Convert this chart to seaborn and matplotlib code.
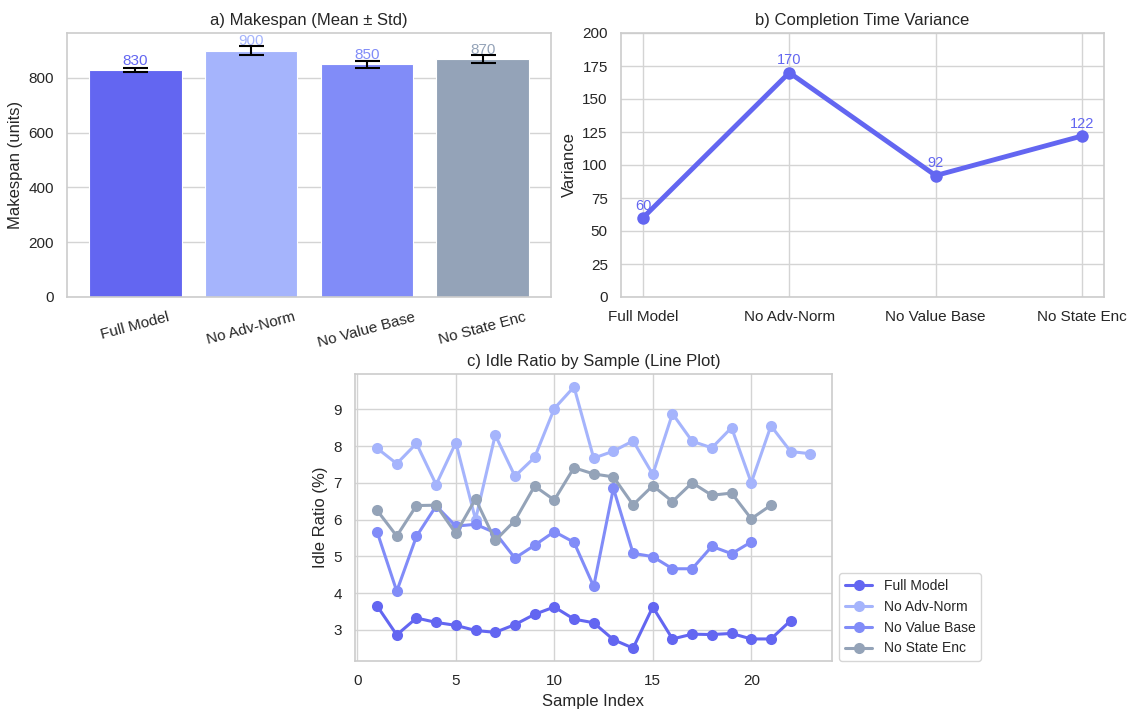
import numpy as np
import pandas as pd
import matplotlib
matplotlib.use("Agg")
import matplotlib.pyplot as plt
import seaborn as sns

# ---- data -------------------------------------------------------------
models = ["Full Model", "No Adv-Norm", "No Value Base", "No State Enc"]
colors = ["#6366F1", "#A5B4FC", "#818CF8", "#94A3B8"]

makespan_mean = [830, 900, 850, 870]
makespan_std = [8, 18, 12, 15]

completion_variance = [60, 170, 92, 122]

idle_full_model = [3.65, 2.86, 3.32, 3.20, 3.12, 2.98, 2.93, 3.14, 3.42, 3.62, 3.29,
                   3.19, 2.73, 2.50, 3.62, 2.75, 2.88, 2.87, 2.90, 2.75, 2.75, 3.25]
idle_no_adv_norm = [7.94, 7.52, 8.07, 6.95, 8.09, 6.00, 8.30, 7.18, 7.69, 9.02, 9.61,
                    7.67, 7.86, 8.14, 7.23, 8.88, 8.13, 7.95, 8.50, 7.00, 8.55, 7.85, 7.79]
idle_no_value_base = [5.67, 4.05, 5.54, 6.37, 5.82, 5.87, 5.64, 4.95, 5.30, 5.67,
                      5.38, 4.18, 6.85, 5.08, 4.99, 4.66, 4.66, 5.27, 5.07, 5.39]
idle_no_state_enc = [6.25, 5.55, 6.38, 6.39, 5.62, 6.56, 5.43, 5.97, 6.91, 6.53, 7.41,
                     7.24, 7.16, 6.40, 6.92, 6.49, 7.00, 6.66, 6.72, 6.02, 6.39]
idle_series = [idle_full_model, idle_no_adv_norm, idle_no_value_base, idle_no_state_enc]

# ---- style ------------------------------------------------------------
sns.set_theme(style="whitegrid")
plt.rcParams["font.family"] = ["Liberation Sans", "DejaVu Sans"]
plt.rcParams["axes.edgecolor"] = "#cccccc"
plt.rcParams["axes.linewidth"] = 1.2
plt.rcParams["grid.color"] = "#d4d4d4"

W, H = 1129, 711
fig = plt.figure(figsize=(W / 100, H / 100), dpi=100)


def px_axes(left, top, right, bottom):
    return fig.add_axes([left / W, 1 - bottom / H, (right - left) / W, (bottom - top) / H])


ax1 = px_axes(67, 33, 551, 297)
ax2 = px_axes(621, 33, 1104, 297)
ax3 = px_axes(355, 374, 832, 661)

# ---- a) makespan bars ---------------------------------------------------
bar_df = pd.DataFrame({"Model": models, "Makespan": makespan_mean})
sns.barplot(data=bar_df, x="Model", y="Makespan", hue="Model", palette=colors,
            saturation=1, width=0.8, legend=False, ax=ax1,
            edgecolor="white", linewidth=0.8)
pos = np.arange(len(models))
ax1.errorbar(pos, makespan_mean, yerr=makespan_std, fmt="none", ecolor="black",
             elinewidth=1.5, capsize=9, capthick=1.5)
for i, (m, s) in enumerate(zip(makespan_mean, makespan_std)):
    ax1.text(i, m + 8, f"{m}", ha="center", va="bottom", fontsize=11, color=colors[i])
ax1.set_xlim(-0.59, 3.59)
ax1.set_ylim(0, 964)
ax1.set_yticks([0, 200, 400, 600, 800])
ax1.set_title("a) Makespan (Mean ± Std)", fontsize=12)
ax1.set_xlabel("")
ax1.set_ylabel("Makespan (units)", fontsize=12)
ax1.tick_params(axis="x", labelsize=11, rotation=15)
ax1.tick_params(axis="y", labelsize=11)

# ---- b) completion time variance ---------------------------------------
sns.lineplot(x=pos, y=completion_variance, color=colors[0], marker="o",
             markersize=9, markeredgewidth=0, linewidth=3.5, ax=ax2)
for i, v in enumerate(completion_variance):
    ax2.text(i, v + 4, f"{v}", ha="center", va="bottom", fontsize=10.5, color=colors[0])
ax2.set_xticks(pos)
ax2.set_xticklabels(models)
ax2.set_xlim(-0.15, 3.15)
ax2.set_ylim(0, 200)
ax2.set_yticks(np.arange(0, 201, 25))
ax2.set_title("b) Completion Time Variance", fontsize=12)
ax2.set_ylabel("Variance", fontsize=12)
ax2.tick_params(axis="both", labelsize=11)

# ---- c) idle ratio per sample ------------------------------------------
for name, vals, col in zip(models, idle_series, colors):
    idx = np.arange(1, len(vals) + 1)
    sns.lineplot(x=idx, y=vals, color=col, marker="o", markersize=8,
                 markeredgewidth=0, linewidth=2.2, label=name, ax=ax3)
ax3.set_xlim(-0.12, 24.1)
ax3.set_ylim(2.15, 9.96)
ax3.set_xticks([0, 5, 10, 15, 20])
ax3.set_yticks([3, 4, 5, 6, 7, 8, 9])
ax3.set_title("c) Idle Ratio by Sample (Line Plot)", fontsize=12)
ax3.set_xlabel("Sample Index", fontsize=12)
ax3.set_ylabel("Idle Ratio (%)", fontsize=12)
ax3.tick_params(axis="both", labelsize=11)
ax3.legend(loc="lower left", bbox_to_anchor=(1.015, 0.0), fontsize=10,
           frameon=True, edgecolor="#cccccc", borderaxespad=0)

fig.savefig("out.png", dpi=100)
